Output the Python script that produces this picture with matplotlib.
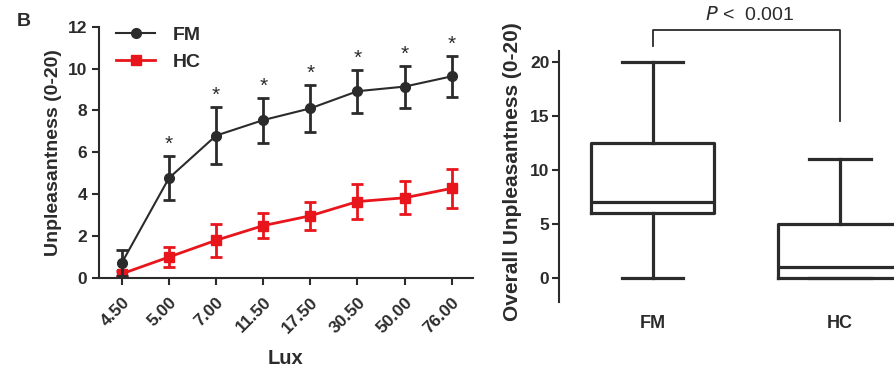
import matplotlib.pyplot as plt
import numpy as np

plt.rcParams['font.family'] = ['Liberation Sans', 'DejaVu Sans']

# left panel: unpleasantness per lux level (mean +/- error)
lux_labels = ["4.50", "5.00", "7.00", "11.50", "17.50", "30.50", "50.00", "76.00"]
fm_mean = [0.72, 4.77, 6.80, 7.54, 8.10, 8.92, 9.14, 9.63]
fm_err = [0.63, 1.05, 1.37, 1.07, 1.12, 1.03, 1.00, 0.98]
hc_mean = [0.20, 1.00, 1.80, 2.50, 2.97, 3.65, 3.83, 4.28]
hc_err = [0.15, 0.48, 0.80, 0.60, 0.66, 0.82, 0.78, 0.92]
signif = [False, True, True, True, True, True, True, True]

# right panel: overall unpleasantness box summaries
groups = ["FM", "HC"]
box_min = [0, 0]
box_q1 = [6, 0]
box_med = [7, 1]
box_q3 = [12.5, 5]
box_max = [20, 11]
p_text = "<  0.001"

dark = "#2b2b2b"
red = "#e8161c"

fig = plt.figure(figsize=(8.94, 3.68), dpi=100)

ax = fig.add_axes([0.1104, 0.2446, 0.4186, 0.6828])
x = np.arange(len(lux_labels))
fm = ax.errorbar(x, fm_mean, yerr=fm_err, color=dark, lw=1.5, marker="o",
                 ms=7, elinewidth=2, capsize=4, capthick=2, zorder=3)
hc = ax.errorbar(x, hc_mean, yerr=hc_err, color=red, lw=2, marker="s", ms=7,
                 elinewidth=2, capsize=4, capthick=2, zorder=2)
for xi, m, e, s in zip(x, fm_mean, fm_err, signif):
    if s:
        ax.text(xi, m + e + 0.1, "*", ha="center", va="bottom", fontsize=15,
                color=dark)
ax.set_xlim(-0.49, 7.45)
ax.set_ylim(0, 12)
ax.set_yticks(range(0, 13, 2))
ax.set_xticks(x)
ax.set_xticklabels(lux_labels, rotation=45, ha="right", rotation_mode="anchor")
for sp in ["top", "right"]:
    ax.spines[sp].set_visible(False)
for sp in ["left", "bottom"]:
    ax.spines[sp].set_linewidth(1.5)
    ax.spines[sp].set_color(dark)
ax.tick_params(width=1.5, length=5, color=dark, labelsize=12.5,
               labelcolor=dark)
ax.tick_params(axis="x", pad=7)
for lab in ax.get_xticklabels() + ax.get_yticklabels():
    lab.set_fontweight("bold")
ax.set_ylabel("Unpleasantness (0-20)", fontsize=14, fontweight="bold",
              color=dark, labelpad=4)
ax.set_xlabel("Lux", fontsize=14.5, fontweight="bold", color=dark,
              labelpad=9)
leg = ax.legend([fm.lines[0], hc.lines[0]], ["FM", "HC"], loc="upper left",
                bbox_to_anchor=(0.0, 1.07), frameon=False, fontsize=14,
                handlelength=2.0, labelspacing=0.45, handletextpad=0.9)
for t in leg.get_texts():
    t.set_fontweight("bold")
    t.set_color(dark)
fig.text(0.019, 0.93, "B", fontsize=14, fontweight="bold", color=dark)

# right panel
ax2 = fig.add_axes([0.6253, 0.179, 0.3747, 0.683])
stats = []
for i, g in enumerate(groups):
    stats.append(dict(label=g, whislo=box_min[i], q1=box_q1[i],
                      med=box_med[i], q3=box_q3[i], whishi=box_max[i],
                      fliers=[]))
style = dict(color=dark, linewidth=2.3)
ax2.bxp(stats, positions=[0, 1], widths=0.66, capwidths=0.33,
        showfliers=False, boxprops=style, whiskerprops=style,
        capprops=style, medianprops=style)
ax2.set_xlim(-0.5, 1.29)
ax2.set_ylim(-2.2, 21)
ax2.set_yticks(range(0, 21, 5))
for sp in ["top", "right", "bottom"]:
    ax2.spines[sp].set_visible(False)
ax2.spines["left"].set_linewidth(1.5)
ax2.spines["left"].set_color(dark)
ax2.tick_params(axis="y", width=1.5, length=5, color=dark, labelsize=12.5,
                labelcolor=dark, pad=2)
ax2.tick_params(axis="x", length=0, labelsize=13, labelcolor=dark, pad=9)
for lab in ax2.get_xticklabels() + ax2.get_yticklabels():
    lab.set_fontweight("bold")
ax2.set_ylabel("Overall Unpleasantness (0-20)", fontsize=15,
               fontweight="bold", color=dark)
ax2.yaxis.set_label_coords(-0.112, 0.52)

# significance bracket
ax2.plot([0, 0, 1, 1], [21.4, 22.9, 22.9, 14.5], color=dark, lw=1.3,
         clip_on=False)
ax2.text(0.52, 23.5, "$P$" + " " + p_text, ha="center", va="bottom",
         fontsize=14, color=dark)

fig.savefig("out.png", dpi=100)
